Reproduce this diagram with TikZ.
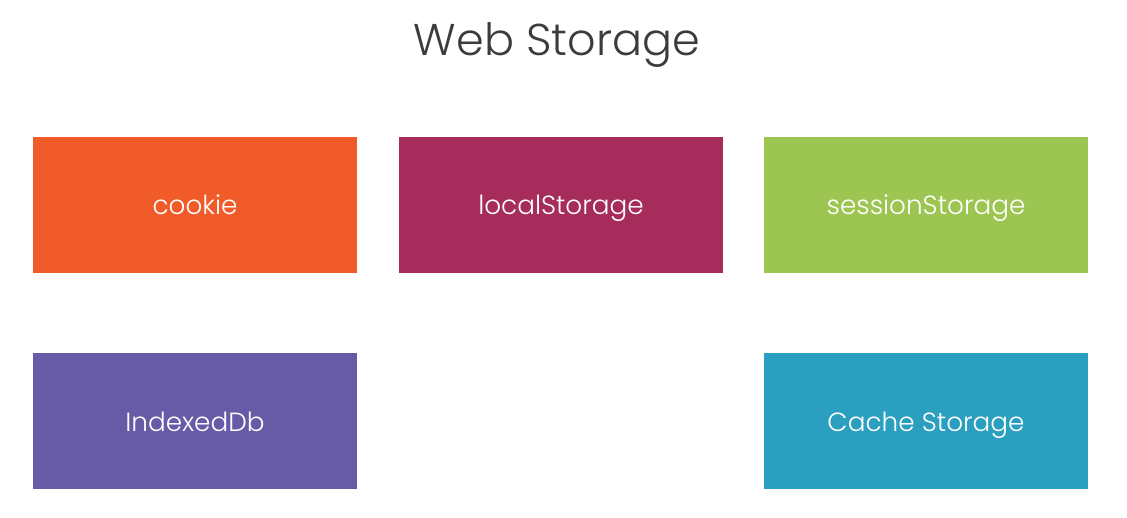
\documentclass[tikz,border=0pt]{standalone}
\usepackage{fontspec}
\setmainfont{Poppins}[UprightFont=* Light]
\definecolor{cOrange}{HTML}{F15A29}
\definecolor{cMaroon}{HTML}{A52C5B}
\definecolor{cGreen}{HTML}{9CC651}
\definecolor{cPurple}{HTML}{675BA7}
\definecolor{cTeal}{HTML}{2B9FBF}
\definecolor{cTitle}{HTML}{3C3C3C}
\begin{document}
\begin{tikzpicture}[x=1pt,y=-1pt,
  box/.style={minimum width=324pt,minimum height=136pt,inner sep=0pt},
  lbl/.style={text=white,inner sep=0pt,anchor=base,font=\fontsize{26.3}{30}\selectfont}]
\useasboundingbox (0,0) rectangle (1127,518);
\node[text=cTitle,font=\fontsize{44.5}{50}\selectfont] (title) at (557,45) {Web Storage};
\node[box,fill=cOrange] (cookie) at (195,205) {};
\node[box,fill=cMaroon] (local) at (561,205) {};
\node[box,fill=cGreen] (session) at (926,205) {};
\node[box,fill=cPurple] (idb) at (195,421) {};
\node[box,fill=cTeal] (cache) at (926,421) {};
\node[lbl] (tcookie) at ([yshift=-10pt]cookie.center) {cookie};
\node[lbl] (tlocal) at ([yshift=-10pt]local.center) {localStorage};
\node[lbl] (tsession) at ([yshift=-10pt]session.center) {sessionStorage};
\node[lbl] (tidb) at ([yshift=-10pt]idb.center) {IndexedDb};
\node[lbl] (tcache) at ([yshift=-10pt]cache.center) {Cache Storage};
\end{tikzpicture}
\end{document}
